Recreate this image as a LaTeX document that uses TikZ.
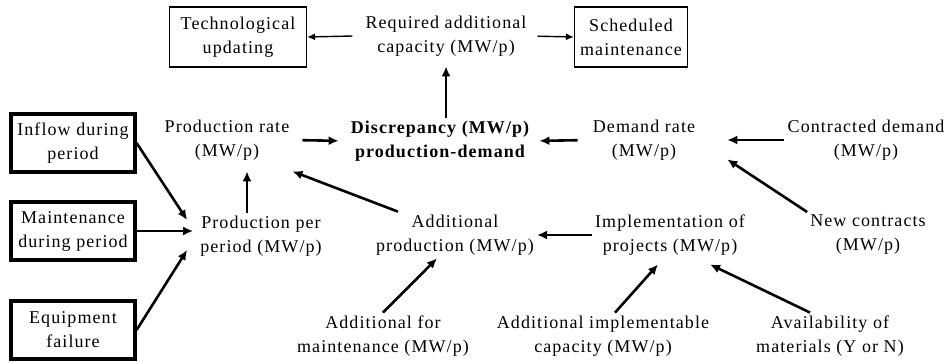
\documentclass[tikz,border=0pt]{standalone}
\usepackage{fontspec}
\setmainfont{Liberation Serif}[LetterSpace=6]
\usepackage{tikz}
\usetikzlibrary{arrows.meta}

\begin{document}
\begin{tikzpicture}[x=1pt, y=-1pt,
		lbl/.style={align=center, inner sep=3pt, font=\fontsize{18}{24}\selectfont},
		thinbox/.style={lbl, draw, line width=1.2pt, minimum height=60pt},
		thickbox/.style={lbl, draw, line width=3.2pt, minimum width=124pt, minimum height=58pt},
		arr/.style={line width=2.6pt, -{Latex[length=10pt, width=9pt]}},
		thinarr/.style={line width=1.4pt, -{Latex[length=8pt, width=7pt]}}]
			\useasboundingbox (0,0) rectangle (950,362);
			
			\node[thinbox, minimum width=137pt] (tech) at (238,37) {Technological\\updating};
			\node[lbl] (req) at (446,36) {Required additional\\capacity (MW/p)};
			\node[thinbox, minimum width=113pt] (sched) at (631,37) {Scheduled\\maintenance};
			
			\node[thickbox] (inflow) at (73,143) {Inflow during\\period};
			\node[lbl] (prodrate) at (227,140) {Production rate\\(MW/p)};
			\node[lbl, font=\fontsize{18}{24}\selectfont\bfseries] (disc) at (440,141) {Discrepancy (MW/p)\\production-demand};
			\node[lbl] (demand) at (644,140) {Demand rate\\(MW/p)};
			\node[lbl] (contr) at (866,140) {Contracted demand\\(MW/p)};
			
			\node[thickbox] (maint) at (73,231) {Maintenance\\during period};
			\node[lbl] (prodper) at (261,236) {Production per\\period (MW/p)};
			\node[lbl] (addprod) at (455,235) {Additional\\production (MW/p)};
			\node[lbl] (impl) at (670,235) {Implementation of\\projects (MW/p)};
			\node[lbl] (newc) at (868,235) {New contracts\\(MW/p)};
			
			\node[thickbox] (equip) at (73,330) {Equipment\\failure};
			\node[lbl] (addmaint) at (383,336) {Additional for\\maintenance (MW/p)};
			\node[lbl] (addimpl) at (603,336) {Additional implementable\\capacity (MW/p)};
			\node[lbl] (avail) at (830,336) {Availability of\\materials (Y or N)};
			
			
			\draw[thinarr] ([xshift=-10pt]req.west) -- (tech.east);
			\draw[thinarr, shorten <=8pt] (req.east) -- (sched.west);
			\draw[arr, shorten >=7pt] (disc.north -| req.south) -- (req.south);
			
			\draw[arr, shorten <=10pt, shorten >=9pt] (prodrate.east) -- (disc.west);
			\draw[arr, shorten <=12pt, shorten >=7pt] (demand.west) -- (disc.east);
			\draw[arr, shorten >=29pt] (contr.west) -- (demand.east);
			\draw[arr] (newc.north west) -- ([xshift=29pt, yshift=4pt]demand.south east);
			
			\draw[arr] ([xshift=25pt]addprod.north west) -- ([yshift=-8pt]prodrate.south east);
			\draw[arr] (impl.west) -- (addprod.east);
			\draw[arr] (addmaint.north) -- ([xshift=-18pt]addprod.south);
			\draw[arr] ([xshift=12pt]addimpl.north) -- ([xshift=-12pt, yshift=-6pt]impl.south);
			\draw[arr] ([xshift=-20pt]avail.north) -- ([xshift=40pt, yshift=-6pt]impl.south);
			
			\draw[arr] (inflow.east) -- ([xshift=-10pt, yshift=16pt]prodper.west);
			\draw[arr, line width=2pt, shorten >=4pt] (maint.east) -- (maint.east -| prodper.west);
			\draw[arr] (equip.east) -- ([xshift=-10pt, yshift=-14pt]prodper.west);
			\draw[arr, shorten >=8pt] ([xshift=-14pt]prodper.north) -- ([xshift=-14pt]prodper.north |- prodrate.south);
		\end{tikzpicture}
\end{document}
